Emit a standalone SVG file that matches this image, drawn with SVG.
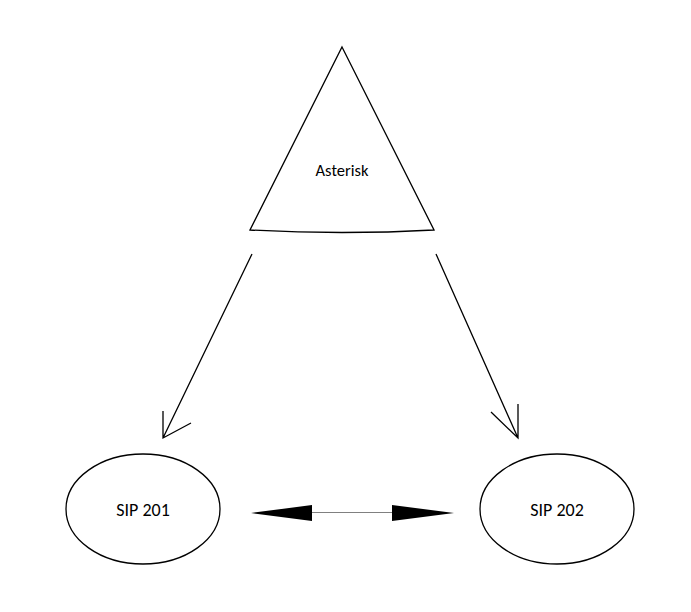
<svg xmlns="http://www.w3.org/2000/svg" width="691" height="612" viewBox="0 0 691 612">
<style>
.s{fill:none;stroke:#000;stroke-width:1.3}
.t{font-family:"Carlito","Liberation Sans",sans-serif;fill:#000;text-anchor:middle}
</style>
<rect width="691" height="612" fill="#fff"/>
<g id="asterisk">
<path class="s" d="M342,47 L434,230 Q342,235 250,230 Z"/>
<text class="t" x="342" y="176" font-size="16.5">Asterisk</text>
</g>
<g id="sip201">
<ellipse class="s" cx="143" cy="509" rx="77" ry="55"/>
<text class="t" x="143" y="516" font-size="18">SIP 201</text>
</g>
<g id="sip202">
<ellipse class="s" cx="557" cy="509" rx="77" ry="55"/>
<text class="t" x="557" y="516" font-size="18">SIP 202</text>
</g>
<g id="connectors">
<path class="s" d="M252,254 L163,438 M163,411 L163,438 L191,423"/>
<path class="s" d="M436,254 L518,438 M518,404 L518,438 L491,412"/>
<line x1="312" y1="512.5" x2="393" y2="512.5" stroke="#808080" stroke-width="1"/>
<polygon points="251,513 312,505 312,521" fill="#000"/>
<polygon points="454,513 392,505 392,521" fill="#000"/>
</g>
</svg>
